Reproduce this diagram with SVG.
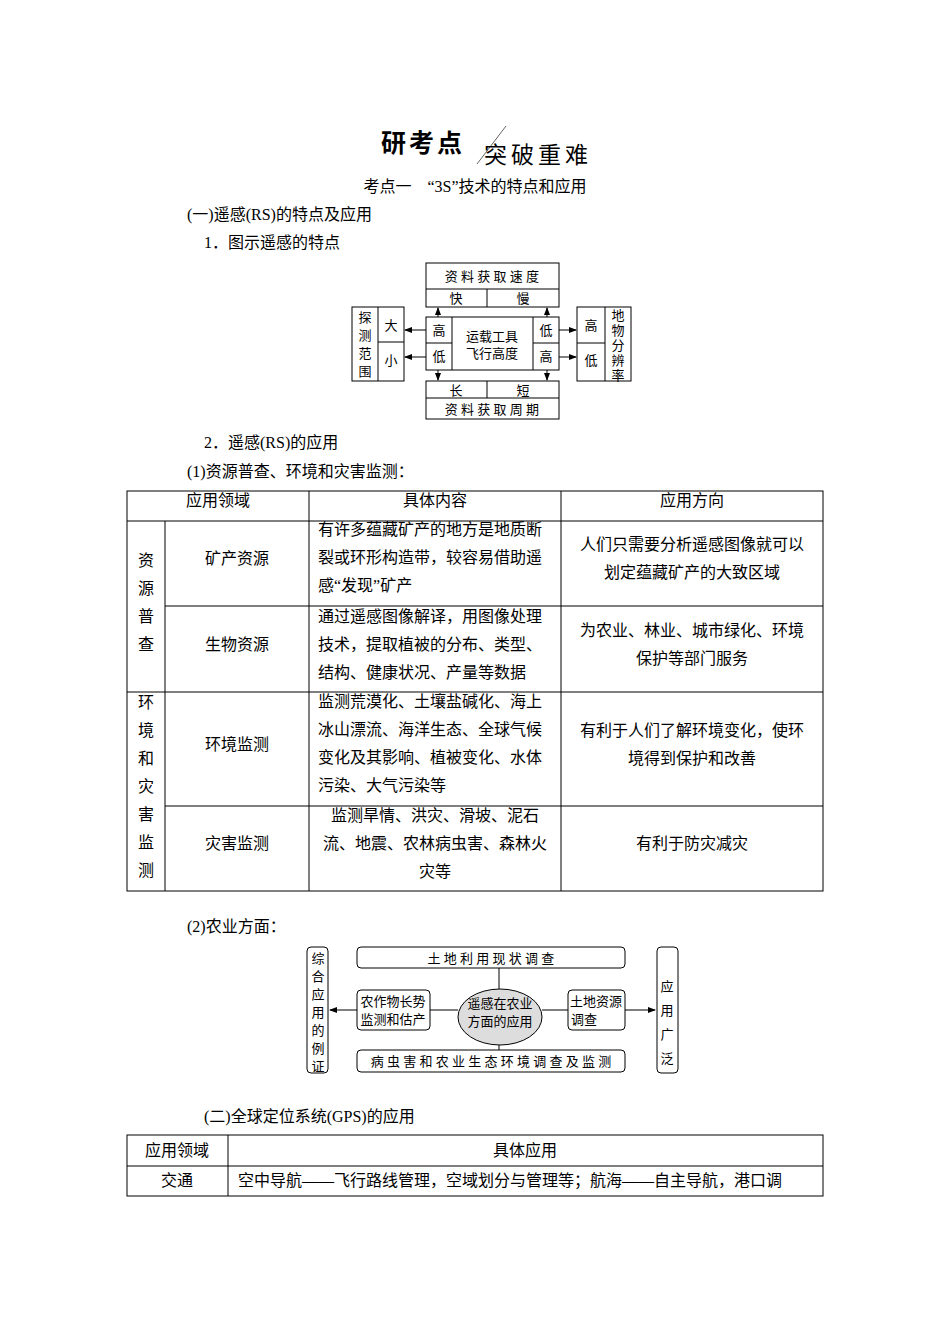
<svg xmlns="http://www.w3.org/2000/svg" width="950" height="1344" viewBox="0 0 950 1344">
<defs><marker id="a" markerWidth="8" markerHeight="6" refX="7" refY="3" orient="auto"><path d="M0,0L8,3L0,6z" fill="#000"/></marker></defs>
<style>
text{font-family:"Liberation Serif","Noto Sans CJK SC",serif;fill:#000}
.t{font-size:16px}.s{font-size:13px}.c{text-anchor:middle}
.b{fill:none;stroke:#000;stroke-width:1}
.l{stroke:#000;stroke-width:1;fill:none}
.ar{stroke:#000;stroke-width:1;marker-end:url(#a)}
</style>
<rect width="950" height="1344" fill="#fff"/>
<g id="title">
<text x="381" y="152" style="font-size:25px;font-weight:bold;letter-spacing:3px">研考点</text>
<line x1="477" y1="164" x2="506" y2="126" stroke="#666" stroke-width="1"/>
<text x="484" y="163" style="font-size:23px;letter-spacing:4px">突破重难</text>
<text x="475" y="192" class="t c">考点一　“3S”技术的特点和应用</text>
<text x="187" y="220" class="t">(一)遥感(RS)的特点及应用</text>
<text x="204" y="248" class="t">1．图示遥感的特点</text>
</g>
<g id="rs-diagram">
<g id="top"><rect x="426" y="263" width="133" height="44" class="b"/><line x1="426" y1="289" x2="559" y2="289" class="l"/><line x1="487" y1="289" x2="487" y2="307" class="l"/>
<text x="492" y="281" class="s c">资 料 获 取 速 度</text><text x="456" y="303" class="s c">快</text><text x="523" y="303" class="s c">慢</text></g>
<g id="bottom"><rect x="426" y="381" width="133" height="38" class="b"/><line x1="426" y1="398" x2="559" y2="398" class="l"/><line x1="487" y1="381" x2="487" y2="398" class="l"/>
<text x="456" y="395" class="s c">长</text><text x="523" y="395" class="s c">短</text><text x="492" y="414" class="s c">资 料 获 取 周 期</text></g>
<g id="center"><rect x="426" y="317" width="133" height="53" class="b"/><line x1="452" y1="317" x2="452" y2="370" class="l"/><line x1="533" y1="317" x2="533" y2="370" class="l"/><line x1="426" y1="343" x2="452" y2="343" class="l"/><line x1="533" y1="343" x2="559" y2="343" class="l"/>
<text x="439" y="335" class="s c">高</text><text x="439" y="361" class="s c">低</text><text x="546" y="335" class="s c">低</text><text x="546" y="361" class="s c">高</text>
<text x="492" y="341" class="s c">运载工具</text><text x="492" y="358" class="s c">飞行高度</text></g>
<g id="left"><rect x="352" y="307" width="52" height="74" class="b"/><line x1="378" y1="307" x2="378" y2="381" class="l"/><line x1="378" y1="342" x2="404" y2="342" class="l"/>
<text x="365" y="322" class="s c">探</text><text x="365" y="340" class="s c">测</text><text x="365" y="358" class="s c">范</text><text x="365" y="376" class="s c">围</text>
<text x="391" y="330" class="s c">大</text><text x="391" y="365" class="s c">小</text></g>
<g id="right"><rect x="577" y="307" width="54" height="74" class="b"/><line x1="605" y1="307" x2="605" y2="381" class="l"/><line x1="577" y1="343" x2="605" y2="343" class="l"/>
<text x="591" y="330" class="s c">高</text><text x="591" y="365" class="s c">低</text>
<text x="618" y="320" class="s c">地</text><text x="618" y="335" class="s c">物</text><text x="618" y="350" class="s c">分</text><text x="618" y="365" class="s c">辨</text><text x="618" y="380" class="s c">率</text></g>
</g>
<g id="rs-connectors">
<line x1="426" y1="330" x2="405" y2="330" class="ar"/><line x1="426" y1="357" x2="405" y2="357" class="ar"/>
<line x1="559" y1="330" x2="576" y2="330" class="ar"/><line x1="559" y1="357" x2="576" y2="357" class="ar"/>
<line x1="438" y1="317" x2="438" y2="308" class="ar"/><line x1="547" y1="317" x2="547" y2="308" class="ar"/>
<line x1="438" y1="370" x2="438" y2="380" class="ar"/><line x1="547" y1="370" x2="547" y2="380" class="ar"/>
</g>
<g id="text2">
<text x="204" y="448" class="t">2．遥感(RS)的应用</text>
<text x="187" y="477" class="t">(1)资源普查、环境和灾害监测：</text>
</g>
<g id="table1">
<rect x="127" y="491" width="696" height="400" class="b"/>
<line x1="127" y1="521" x2="823" y2="521" class="l"/>
<line x1="165" y1="606" x2="823" y2="606" class="l"/>
<line x1="127" y1="692" x2="823" y2="692" class="l"/>
<line x1="165" y1="806" x2="823" y2="806" class="l"/>
<line x1="165" y1="521" x2="165" y2="891" class="l"/>
<line x1="309" y1="491" x2="309" y2="891" class="l"/>
<line x1="561" y1="491" x2="561" y2="891" class="l"/>
<text x="218" y="506" class="t c">应用领域</text><text x="435" y="506" class="t c">具体内容</text><text x="692" y="506" class="t c">应用方向</text>
<text x="146" y="566" class="t c">资</text><text x="146" y="594" class="t c">源</text><text x="146" y="622" class="t c">普</text><text x="146" y="650" class="t c">查</text>
<text x="146" y="708" class="t c">环</text><text x="146" y="736" class="t c">境</text><text x="146" y="764" class="t c">和</text><text x="146" y="792" class="t c">灾</text><text x="146" y="820" class="t c">害</text><text x="146" y="848" class="t c">监</text><text x="146" y="876" class="t c">测</text>
<text x="237" y="564" class="t c">矿产资源</text><text x="237" y="650" class="t c">生物资源</text><text x="237" y="750" class="t c">环境监测</text><text x="237" y="849" class="t c">灾害监测</text>
<text x="318" y="535" class="t">有许多蕴藏矿产的地方是地质断</text><text x="318" y="563" class="t">裂或环形构造带，较容易借助遥</text><text x="318" y="591" class="t">感“发现”矿产</text>
<text x="318" y="622" class="t">通过遥感图像解译，用图像处理</text><text x="318" y="650" class="t">技术，提取植被的分布、类型、</text><text x="318" y="678" class="t">结构、健康状况、产量等数据</text>
<text x="318" y="707" class="t">监测荒漠化、土壤盐碱化、海上</text><text x="318" y="735" class="t">冰山漂流、海洋生态、全球气候</text><text x="318" y="763" class="t">变化及其影响、植被变化、水体</text><text x="318" y="791" class="t">污染、大气污染等</text>
<text x="435" y="821" class="t c">监测旱情、洪灾、滑坡、泥石</text><text x="435" y="849" class="t c">流、地震、农林病虫害、森林火</text><text x="435" y="877" class="t c">灾等</text>
<text x="692" y="550" class="t c">人们只需要分析遥感图像就可以</text><text x="692" y="578" class="t c">划定蕴藏矿产的大致区域</text>
<text x="692" y="636" class="t c">为农业、林业、城市绿化、环境</text><text x="692" y="664" class="t c">保护等部门服务</text>
<text x="692" y="736" class="t c">有利于人们了解环境变化，使环</text><text x="692" y="764" class="t c">境得到保护和改善</text>
<text x="692" y="849" class="t c">有利于防灾减灾</text>
</g>
<text x="187" y="932" class="t">(2)农业方面：</text>
<g id="agri-left"><rect x="307" y="947" width="21" height="126" rx="4" class="b"/>
<text x="318" y="963" class="s c">综</text><text x="318" y="981" class="s c">合</text><text x="318" y="999" class="s c">应</text><text x="318" y="1017" class="s c">用</text><text x="318" y="1035" class="s c">的</text><text x="318" y="1053" class="s c">例</text><text x="318" y="1071" class="s c">证</text></g>
<g id="agri-right"><rect x="657" y="947" width="21" height="126" rx="4" class="b"/>
<text x="667" y="991" class="s c">应</text><text x="667" y="1015" class="s c">用</text><text x="667" y="1039" class="s c">广</text><text x="667" y="1063" class="s c">泛</text></g>
<g id="agri-top"><rect x="357" y="947" width="268" height="21" rx="4" class="b"/><text x="491" y="963" class="s c">土 地 利 用 现 状 调 查</text></g>
<g id="agri-bottom"><rect x="357" y="1050" width="268" height="22" rx="4" class="b"/><text x="491" y="1066" class="s c">病 虫 害 和 农 业 生 态 环 境 调 查 及 监 测</text></g>
<g id="agri-l"><rect x="357" y="990" width="73" height="40" rx="4" class="b"/><text x="393" y="1006" class="s c">农作物长势</text><text x="393" y="1024" class="s c">监测和估产</text></g>
<g id="agri-r"><rect x="568" y="990" width="57" height="40" rx="4" class="b"/><text x="596" y="1006" class="s c">土地资源</text><text x="584" y="1024" class="s c">调查</text></g>
<g id="agri-center"><ellipse cx="500" cy="1017" rx="42" ry="28" fill="#ddd" stroke="#000"/><text x="500" y="1008" class="s c">遥感在农业</text><text x="500" y="1026" class="s c">方面的应用</text></g>
<g id="agri-connectors">
<line x1="499" y1="968" x2="499" y2="989" class="l"/><line x1="499" y1="1045" x2="499" y2="1050" class="l"/>
<line x1="430" y1="1010" x2="458" y2="1010" class="l"/><line x1="542" y1="1010" x2="568" y2="1010" class="l"/>
<line x1="357" y1="1010" x2="330" y2="1010" class="ar"/><line x1="625" y1="1010" x2="655" y2="1010" class="ar"/>
</g>
<text x="204" y="1122" class="t">(二)全球定位系统(GPS)的应用</text>
<g id="table2">
<rect x="127" y="1135" width="696" height="61" class="b"/>
<line x1="127" y1="1166" x2="823" y2="1166" class="l"/><line x1="228" y1="1135" x2="228" y2="1196" class="l"/>
<text x="177" y="1156" class="t c">应用领域</text><text x="525" y="1156" class="t c">具体应用</text>
<text x="177" y="1186" class="t c">交通</text><text x="238" y="1186" class="t">空中导航——飞行路线管理，空域划分与管理等；航海——自主导航，港口调</text>
</g>
</svg>
